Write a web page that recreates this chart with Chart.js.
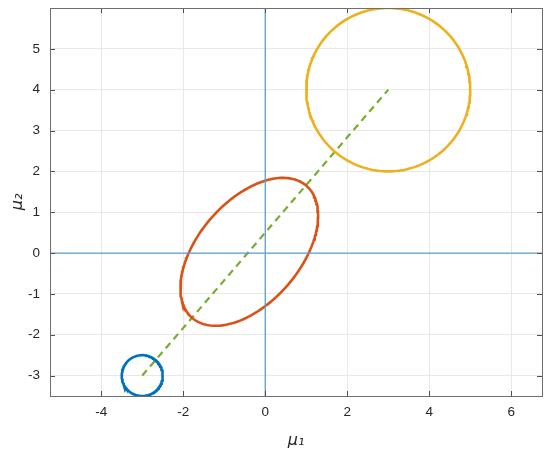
<!DOCTYPE html>
<html>
<head>
<meta charset="utf-8">
<script src="https://cdn.jsdelivr.net/npm/chart.js@4/dist/chart.umd.min.js"></script>
<style>
html,body{margin:0;padding:0;background:#fff;}
#wrap{width:550px;height:455px;}
</style>
</head>
<body>
<div id="wrap"><canvas id="c" width="550" height="455"></canvas></div>
<script>
// Axis ranges and tick labels
const xRange = [-5.25, 6.75];
const yRange = [-3.5, 6];
const xTicks = [-4, -2, 0, 2, 4, 6];
const yTicks = [-3, -2, -1, 0, 1, 2, 3, 4, 5];

// Gaussian contours: centers and covariance (shape) values
const blueCenter = [-3, -3];
const blueCov = [[0.25, 0], [0, 0.25]];
const redCenter = [-0.39, 0.03];
const redCov = [[2.82, 1.49], [1.49, 3.28]];
const yellowCenter = [3, 4];
const yellowCov = [[4, 0], [0, 4]];

// Dashed line between the two means
const lineX = [-3, 3];
const lineY = [-3, 4];

function contour(center, cov) {
  const l11 = Math.sqrt(cov[0][0]);
  const l21 = cov[1][0] / l11;
  const l22 = Math.sqrt(cov[1][1] - l21 * l21);
  const pts = [];
  for (let i = 0; i <= 200; i++) {
    const t = 2 * Math.PI * i / 200;
    const u = Math.cos(t), v = Math.sin(t);
    pts.push({x: center[0] + l11 * u, y: center[1] + l21 * u + l22 * v});
  }
  return pts;
}

const boxPlugin = {
  id: 'box',
  afterDatasetsDraw(chart) {
    const {ctx, chartArea: a, scales} = chart;
    ctx.save();
    ctx.strokeStyle = '#4d4d4d';
    ctx.lineWidth = 1;
    ctx.beginPath();
    xTicks.forEach(v => {
      const px = Math.round(scales.x.getPixelForValue(v)) + 0.5;
      ctx.moveTo(px, a.bottom); ctx.lineTo(px, a.bottom - 5);
      ctx.moveTo(px, a.top); ctx.lineTo(px, a.top + 5);
    });
    yTicks.forEach(v => {
      const py = Math.round(scales.y.getPixelForValue(v)) + 0.5;
      ctx.moveTo(a.left, py); ctx.lineTo(a.left + 5, py);
      ctx.moveTo(a.right, py); ctx.lineTo(a.right - 5, py);
    });
    ctx.stroke();
    ctx.strokeStyle = '#6e6e6e';
    ctx.strokeRect(Math.round(a.left) + 0.5, Math.round(a.top) + 0.5,
                   Math.round(a.right - a.left), Math.round(a.bottom - a.top));
    ctx.restore();
  }
};

const axisColor = '#5d9ed6';
const data = {
  datasets: [
    {data: [{x: xRange[0], y: 0}, {x: xRange[1], y: 0}], borderColor: axisColor, borderWidth: 1.3},
    {data: [{x: 0, y: yRange[0]}, {x: 0, y: yRange[1]}], borderColor: axisColor, borderWidth: 1.3},
    {data: contour(blueCenter, blueCov), borderColor: '#0072BD', borderWidth: 2.6},
    {data: contour(redCenter, redCov), borderColor: '#D95319', borderWidth: 2.6},
    {data: contour(yellowCenter, yellowCov), borderColor: '#EDB120', borderWidth: 2.6},
    {data: lineX.map((x, i) => ({x: x, y: lineY[i]})), borderColor: '#77AC30', borderWidth: 2.2, borderDash: [7, 5]}
  ]
};
data.datasets.forEach(d => { d.showLine = true; d.pointRadius = 0; d.fill = false; d.tension = 0; });

const tickFont = {family: 'Liberation Sans, Arial, sans-serif', size: 13.5};
new Chart(document.getElementById('c'), {
  type: 'scatter',
  data: data,
  options: {
    responsive: false,
    animation: false,
    layout: {padding: {top: 8, right: 8, left: 4, bottom: 0}},
    plugins: {legend: {display: false}, tooltip: {enabled: false}},
    scales: {
      x: {
        type: 'linear', min: xRange[0], max: xRange[1],
        afterBuildTicks: s => { s.ticks = xTicks.map(v => ({value: v})); },
        afterFit: s => { s.height = 59; s.paddingLeft = 0; s.paddingRight = 0; },
        grid: {color: '#e8e8e8', drawTicks: false},
        border: {display: false},
        ticks: {color: '#262626', font: tickFont, padding: 8},
        title: {display: true, text: 'μ₁', color: '#262626',
                font: {family: 'DejaVu Sans, sans-serif', size: 16, style: 'italic'}, padding: {top: 0, bottom: 5}}
      },
      y: {
        type: 'linear', min: yRange[0], max: yRange[1],
        afterBuildTicks: s => { s.ticks = yTicks.map(v => ({value: v})); },
        afterFit: s => { s.width = 46; s.paddingTop = 0; s.paddingBottom = 0; },
        grid: {color: '#e8e8e8', drawTicks: false},
        border: {display: false},
        ticks: {color: '#262626', font: tickFont, padding: 10},
        title: {display: true, text: 'μ₂', color: '#262626',
                font: {family: 'DejaVu Sans, sans-serif', size: 16, style: 'italic'}, padding: {bottom: 0}}
      }
    }
  },
  plugins: [boxPlugin]
});
</script>
</body>
</html>
